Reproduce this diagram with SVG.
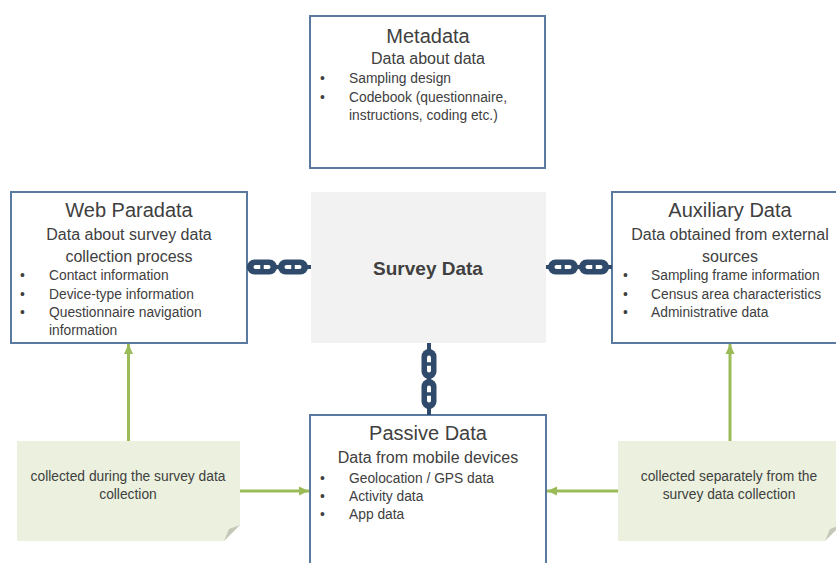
<svg xmlns="http://www.w3.org/2000/svg" xmlns:xlink="http://www.w3.org/1999/xlink" width="836" height="563" viewBox="0 0 836 563">
<style>
.box{fill:#ffffff;stroke:#5a7aa0;stroke-width:2}
.core{fill:#f2f2f2;stroke:none}
.note{fill:#ebf1de;stroke:none}
.fold{fill:#c3c8b8}
text{font-family:"Liberation Sans",Arial,sans-serif;fill:#404040}
.t{font-size:20px;text-anchor:middle}
.s{font-size:16px;text-anchor:middle}
.b{font-size:13.8px}
.n{font-size:13.8px;text-anchor:middle}
.core-t{font-size:19px;font-weight:bold;text-anchor:middle}
.arrow{stroke:#9bbb59;stroke-width:3;fill:none;marker-end:url(#ah)}
.stub{stroke:#2f4a6a;stroke-width:4}
</style>
<defs>
<marker id="ah" markerUnits="userSpaceOnUse" markerWidth="10" markerHeight="10" viewBox="0 0 10 10" refX="10" refY="5" orient="auto">
<path d="M0,0.5 L10,5 L0,9.5 Z" fill="#9bbb59"/>
</marker>
<g id="link">
<rect x="-15" y="-7.5" width="30" height="15" rx="7.5" fill="#2f4a6a"/>
<rect x="-8.5" y="-2" width="17" height="4" rx="2" fill="#ffffff"/>
<rect x="-1.75" y="-3" width="3.5" height="6" fill="#2f4a6a"/>
</g>
</defs>
<rect width="836" height="563" fill="#ffffff"/>

<g id="metadata">
<rect class="box" x="310" y="16" width="235" height="152"/>
<text class="t" x="428" y="43">Metadata</text>
<text class="s" x="428" y="64">Data about data</text>
<text class="b" x="320" y="83">•</text>
<text class="b" x="349" y="83">Sampling design</text>
<text class="b" x="320" y="101.5">•</text>
<text class="b" x="349" y="101.5">Codebook (questionnaire,</text>
<text class="b" x="349" y="120">instructions, coding etc.)</text>
</g>

<g id="survey-data">
<rect class="core" x="311" y="192" width="235" height="151"/>
<text class="core-t" x="428" y="275">Survey Data</text>
</g>

<g id="web-paradata">
<rect class="box" x="11" y="192" width="236" height="151"/>
<text class="t" x="129" y="217">Web Paradata</text>
<text class="s" x="129" y="240">Data about survey data</text>
<text class="s" x="129" y="262">collection process</text>
<text class="b" x="20" y="280">•</text>
<text class="b" x="49" y="280">Contact information</text>
<text class="b" x="20" y="298.5">•</text>
<text class="b" x="49" y="298.5">Device-type information</text>
<text class="b" x="20" y="317">•</text>
<text class="b" x="49" y="317">Questionnaire navigation</text>
<text class="b" x="49" y="335">information</text>
</g>

<g id="auxiliary-data">
<rect class="box" x="612" y="192" width="236" height="151"/>
<text class="t" x="730" y="217">Auxiliary Data</text>
<text class="s" x="730" y="240">Data obtained from external</text>
<text class="s" x="730" y="262">sources</text>
<text class="b" x="623" y="280">•</text>
<text class="b" x="651" y="280">Sampling frame information</text>
<text class="b" x="623" y="298.5">•</text>
<text class="b" x="651" y="298.5">Census area characteristics</text>
<text class="b" x="623" y="317">•</text>
<text class="b" x="651" y="317">Administrative data</text>
</g>

<g id="passive-data">
<rect class="box" x="310" y="415" width="236" height="170"/>
<text class="t" x="428" y="440">Passive Data</text>
<text class="s" x="428" y="463">Data from mobile devices</text>
<text class="b" x="320" y="483">•</text>
<text class="b" x="349" y="483">Geolocation / GPS data</text>
<text class="b" x="320" y="501">•</text>
<text class="b" x="349" y="501">Activity data</text>
<text class="b" x="320" y="519">•</text>
<text class="b" x="349" y="519">App data</text>
</g>

<g id="note-during">
<path class="note" d="M17,441 H240 V525 L224,541 H17 Z"/>
<path class="fold" d="M224,541 L240,525 L229,529 Z"/>
<text class="n" x="128" y="481">collected during the survey data</text>
<text class="n" x="128" y="499">collection</text>
</g>

<g id="note-separately">
<path class="note" d="M618,441 H841 V525 L825,541 H618 Z"/>
<path class="fold" d="M825,541 L841,525 L830,529 Z"/>
<text class="n" x="729" y="481">collected separately from the</text>
<text class="n" x="729" y="499">survey data collection</text>
</g>

<g id="connectors">
<line class="stub" x1="247" y1="267" x2="311" y2="267"/>
<use xlink:href="#link" href="#link" x="262" y="267"/>
<use xlink:href="#link" href="#link" x="293" y="267"/>
<line class="stub" x1="546" y1="267" x2="612" y2="267"/>
<use xlink:href="#link" href="#link" x="563" y="267"/>
<use xlink:href="#link" href="#link" x="594" y="267"/>
<line class="stub" x1="429" y1="343" x2="429" y2="415"/>
<use xlink:href="#link" href="#link" transform="translate(429,364) rotate(90)"/>
<use xlink:href="#link" href="#link" transform="translate(429,394) rotate(90)"/>
<line class="arrow" x1="128.5" y1="441" x2="128.5" y2="344"/>
<line class="arrow" x1="730" y1="441" x2="730" y2="344"/>
<line class="arrow" x1="240" y1="491" x2="309" y2="491"/>
<line class="arrow" x1="618" y1="491" x2="547" y2="491"/>
</g>
</svg>
